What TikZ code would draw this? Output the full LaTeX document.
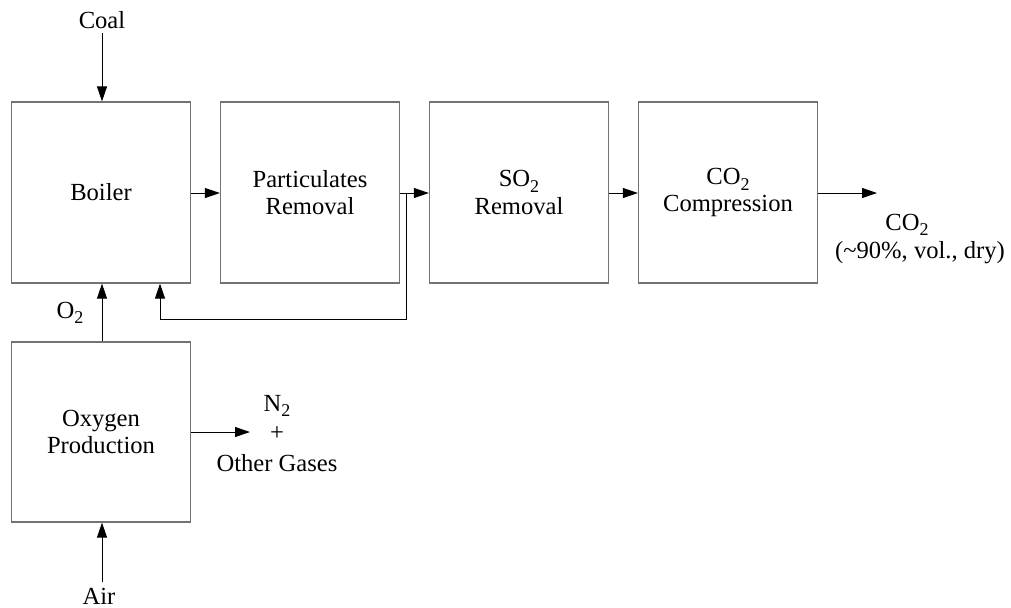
\documentclass[tikz,border=0pt]{standalone}
\usepackage{fontspec}
\setmainfont{Liberation Serif}
\usetikzlibrary{arrows.meta}
\newcommand\mysub[1]{\raisebox{-2.8pt}{\fontsize{9}{9}\selectfont #1}}
\begin{document}
\begin{tikzpicture}[x=0.5pt,y=-0.5pt,
  font=\fontsize{12.3}{13.6}\selectfont,
  unit/.style={draw=gray!90!black, line width=0.6pt, minimum width=89.5pt, minimum height=90.5pt, inner sep=0pt, align=center},
  lbl/.style={inner sep=0pt, align=center},
  arr/.style={draw=black, line width=0.5pt, -{Triangle[length=7.5pt,width=5pt]}},
  ln/.style={draw=black, line width=0.5pt}]
\useasboundingbox (0,0) rectangle (1011,607);
\node[unit] (boiler) at (101,192.5) {Boiler};
\node[unit] (part) at (310,192.5) {Particulates\\Removal};
\node[unit] (so2) at (519,192.5) {SO\mysub{2}\\Removal};
\node[unit] (comp) at (728,192.5) {CO\mysub{2}\\Compression};
\node[unit, minimum height=90pt] (oxy) at (101,432) {Oxygen\\Production};
\node[lbl] (coal) at (102,20) {Coal};
\node[lbl] (air) at (99,596) {Air};
\node[lbl] (o2) at (70,313) {O\mysub{2}};
\node[lbl] (n2) at (277,406) {N\mysub{2}};
\node[lbl] (plus) at (277,434) {+};
\node[lbl] (other) at (277,463) {Other Gases};
\node[lbl] (co2) at (907,225) {CO\mysub{2}};
\node[lbl] (pct) at (920,253) {(\textasciitilde90\%, vol., dry)};
\coordinate (flow) at (0,193);
\coordinate (o2x) at (102,0);
\coordinate (coaltop) at (102,33);
\coordinate (airbot) at (102,582);
\coordinate (n2end) at (250,432);
\coordinate (co2end) at (877,193);
\coordinate (rb) at (160,319);
\draw[arr] (coaltop) -- (coaltop |- boiler.north);
\draw[arr] (boiler.east |- flow) -- (part.west |- flow);
\draw[arr] (part.east |- flow) -- (so2.west |- flow);
\draw[arr] (so2.east |- flow) -- (comp.west |- flow);
\draw[arr] (comp.east |- co2end) -- (co2end);
\draw[arr] (o2x |- oxy.north) -- (o2x |- boiler.south);
\draw[arr] (airbot) -- (airbot |- oxy.south);
\draw[arr] (oxy.east |- n2end) -- (n2end);
\draw[ln] (part.east |- flow) -- ++(6,0) |- (rb);
\draw[arr] (rb) -- (rb |- boiler.south);
\end{tikzpicture}
\end{document}
